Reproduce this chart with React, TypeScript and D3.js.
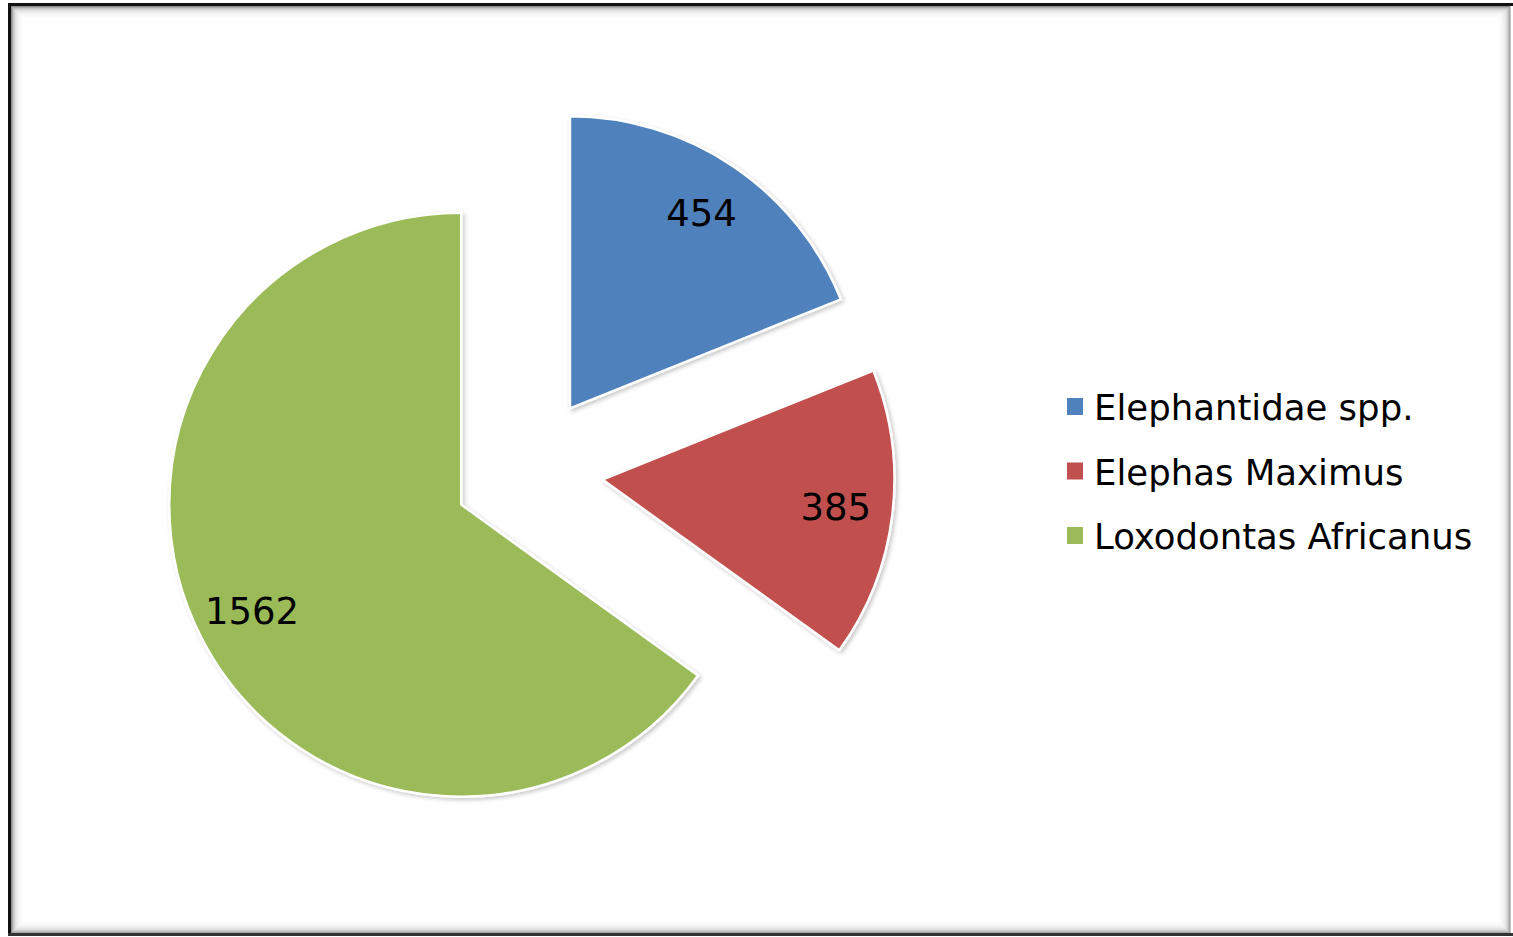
import React from "react";
import * as d3 from "d3";

const categories = ["Elephantidae spp.", "Elephas Maximus", "Loxodontas Africanus"];
const values = [454, 385, 1562];
const colors = ["#4F81BD", "#C0504D", "#9BBB59"];

const W = 1513;
const H = 937;
const CX = 528;
const CY = 470.5;
const R = 292;
const EXPLODE = 75;
const LABEL_R = 235;
const FONT = "'DejaVu Sans', Verdana, sans-serif";

export default function App() {
  const pie = d3.pie<number>().sort(null).startAngle(0).endAngle(2 * Math.PI);
  const arcs = pie(values);
  const arcGen = d3.arc<d3.PieArcDatum<number>>().innerRadius(0).outerRadius(R);

  const shadowSteps = d3.range(0, 12);

  return (
    <svg
      width={W}
      height={H}
      style={{ position: "absolute", left: 0, top: 0, background: "#fff" }}
    >
      <defs>
        <filter id="sh" x="-20%" y="-20%" width="140%" height="140%">
          <feDropShadow dx="2" dy="2" stdDeviation="2" floodColor="#000" floodOpacity="0.22" />
        </filter>
      </defs>
      {/* frame with inner shadow */}
      <rect x={0} y={0} width={W} height={H} fill="#fff" />
      {shadowSteps.map((i) => (
        <rect
          key={i}
          x={11.5 + i}
          y={6.5 + i}
          width={W - 3 - 11.5 - 2 * i}
          height={H - 4 - 6.5 - 2 * i}
          fill="none"
          stroke="#000"
          strokeOpacity={0.45 * Math.pow(0.72, i)}
          strokeWidth={1}
        />
      ))}
      <line x1={9.5} y1={3} x2={9.5} y2={936} stroke="#111" strokeWidth={3} />
      <line x1={8} y1={4.5} x2={W} y2={4.5} stroke="#111" strokeWidth={3} />
      <line x1={8} y1={934.5} x2={W} y2={934.5} stroke="#333" strokeWidth={3} />

      {arcs.map((a, i) => {
        const mid = (a.startAngle + a.endAngle) / 2;
        const ox = CX + EXPLODE * Math.sin(mid);
        const oy = CY - EXPLODE * Math.cos(mid);
        const lx = ox + LABEL_R * Math.sin(mid);
        const ly = oy - LABEL_R * Math.cos(mid);
        return (
          <g key={i} transform={`translate(${ox},${oy})`}>
            <path
              d={arcGen(a) || ""}
              fill={colors[i]}
              stroke="#fff"
              strokeWidth={2.5}
              strokeLinejoin="miter"
              filter="url(#sh)"
            />
            <text
              x={lx - ox}
              y={ly - oy}
              textAnchor="middle"
              dominantBaseline="central"
              fontFamily={FONT}
              fontSize={37}
              fill="#000"
            >
              {values[i]}
            </text>
          </g>
        );
      })}

      {categories.map((c, i) => (
        <g key={c} transform={`translate(1067,${420 + i * 64.5})`}>
          <rect x={0} y={-22} width={16} height={17} fill={colors[i]} />
          <text x={27} y={0} fontFamily={FONT} fontSize={35.5} fill="#000">
            {c}
          </text>
        </g>
      ))}
    </svg>
  );
}
